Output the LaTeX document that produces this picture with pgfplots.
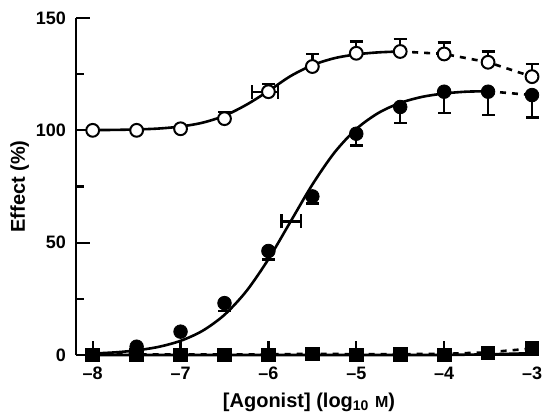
\documentclass[border=0pt]{standalone}
\usepackage{pgfplots}
\pgfplotsset{compat=1.18}
\usepackage{fontspec}
\setmainfont{Liberation Sans}
\begin{document}
\begin{tikzpicture}
\begin{axis}[
  name=ax,
  scale only axis,
  width=228pt, height=168.5pt,
  xmin=-8.19, xmax=-3, ymin=0, ymax=150,
  axis x line*=bottom, axis y line*=left,
  axis line style={-, line width=1.3pt},
  axis on top,
  clip=false,
  tick align=inside,
  xtick pos=bottom, ytick pos=left,
  xtick={-8,-7,-6,-5,-4,-3},
  xticklabels={--8,--7,--6,--5,--4,--3},
  ytick={0,50,100,150},
  yticklabels={0,50,100,150},
  minor ytick={25,75,125},
  major tick length=7pt, minor tick length=3.8pt,
  xtick style={draw=black, line width=1.1pt},
  ytick style={draw=black, line width=1.1pt},
  tick label style={font=\fontsize{9}{10}\selectfont\bfseries},
  xticklabel style={yshift=-2.5pt},
  yticklabel style={xshift=-1.5pt},
  xlabel={[Agonist] (log\textsubscript{10} {\fontsize{8}{9}\selectfont M})},
  ylabel={Effect (\%)},
  label style={font=\fontsize{10}{12}\selectfont\bfseries},
  xlabel style={at={(axis description cs:0.511,0)}, anchor=base, yshift=-26pt},
  ylabel style={at={(axis description cs:-0.1235,0.5)}, anchor=center},
]
% squares: two series near zero
\addplot[black, line width=1.3pt, mark=none] coordinates {
(-8,0) (-7.5,0) (-7,0) (-6.5,0) (-6,0) (-5.5,0) (-5,0) (-4.5,0) (-4,0) (-3.5,0.3) (-3,0.8)};
\addplot[black, line width=1.3pt, dashed, mark=none] coordinates {
(-8,0.3) (-7.5,0.3) (-7,0.3) (-6.5,0.3) (-6,0.3) (-5.5,0.5) (-5,0.4) (-4.5,0.4) (-4,0.5) (-3.5,1.2) (-3,2.9)};
% open circle fitted curve
\addplot[black, line width=1.3pt, smooth, mark=none] coordinates {
(-8,100.1) (-7.75,100.2) (-7.5,100.4) (-7.25,100.8) (-7,101.7) (-6.75,103.4)
(-6.5,106.5) (-6.25,111.4) (-6,117.5) (-5.75,124.1) (-5.5,129.0) (-5.25,132.1)
(-5,133.8) (-4.75,134.7) (-4.5,135.1)};
\addplot[black, line width=1.3pt, dashed, mark=none] coordinates {
(-4.5,135.1) (-4,134.0) (-3.5,130.3) (-3,123.9)};
% filled circle fitted curve
\addplot[black, line width=1.3pt, smooth, mark=none] coordinates {
(-8,0.66) (-7.75,1.17) (-7.5,2.07) (-7.25,3.63) (-7,6.31) (-6.75,10.77)
(-6.5,17.9) (-6.25,28.47) (-6,42.66) (-5.75,59.25) (-5.5,75.85) (-5.25,90.03)
(-5,100.6) (-4.75,107.7) (-4.5,112.2) (-4.25,114.9) (-4,116.4) (-3.75,117.2) (-3.5,117.4)};
\addplot[black, line width=1.3pt, dashed, mark=none] coordinates {
(-3.5,117.4) (-3,115.7)};
% horizontal error bars (EC50)
\addplot[black, line width=1.2pt, mark=none,
  error bars/.cd, x dir=both, x explicit,
  error bar style={line width=1.2pt},
  error mark options={rotate=90, mark size=3.5pt, line width=1.2pt}]
  coordinates {(-6.04,117) +- (0.15,0)};
\addplot[black, line width=1.2pt, mark=none,
  error bars/.cd, x dir=both, x explicit,
  error bar style={line width=1.2pt},
  error mark options={rotate=90, mark size=3.5pt, line width=1.2pt}]
  coordinates {(-5.74,59.5) +- (0.11,0)};
% squares markers
\addplot[black, only marks, mark=square*, mark size=3.4pt] coordinates {
(-8,0) (-7.5,0) (-7,0) (-6.5,0) (-6,0) (-5.5,0.5) (-5,0) (-4.5,0.4) (-4,0) (-3.5,1.0) (-3,2.9)};
% filled circles with downward error bars
\addplot[black, only marks, mark=*, mark size=3.4pt,
  error bars/.cd, y dir=minus, y explicit,
  error bar style={line width=1.2pt},
  error mark options={rotate=90, mark size=3.25pt, line width=1.2pt}]
  coordinates {
(-7.5,3.7) -= (0,0)
(-7,10.4) -= (0,0)
(-6.5,23.1) -= (0,3.4)
(-6,46.3) -= (0,3.8)
(-5.5,70.6) -= (0,3.2)
(-5,98.5) -= (0,5.2)
(-4.5,110.4) -= (0,7.1)
(-4,117.2) -= (0,9.4)
(-3.5,117.2) -= (0,10.5)
(-3,115.7) -= (0,10.0)};
% open circles with upward error bars
\addplot[black, only marks, mark=*, mark size=3.2pt,
  mark options={fill=white, draw=black, line width=1pt},
  error bars/.cd, y dir=plus, y explicit,
  error bar style={line width=1.2pt},
  error mark options={rotate=90, mark size=3.25pt, line width=1.2pt}]
  coordinates {
(-8,100) += (0,0)
(-7.5,100) += (0,0)
(-7,100.7) += (0,0)
(-6.5,105.2) += (0,3.0)
(-6,117.2) += (0,3.5)
(-5.5,128.4) += (0,5.6)
(-5,134.3) += (0,5.3)
(-4.5,135.1) += (0,5.5)
(-4,134.0) += (0,5.1)
(-3.5,130.3) += (0,4.8)
(-3,123.9) += (0,5.7)};
\end{axis}
\pgfresetboundingbox
\path ([shift={(-38pt,-29pt)}]ax.south west) rectangle ([shift={(5pt,9pt)}]ax.north east);
\end{tikzpicture}
\end{document}
